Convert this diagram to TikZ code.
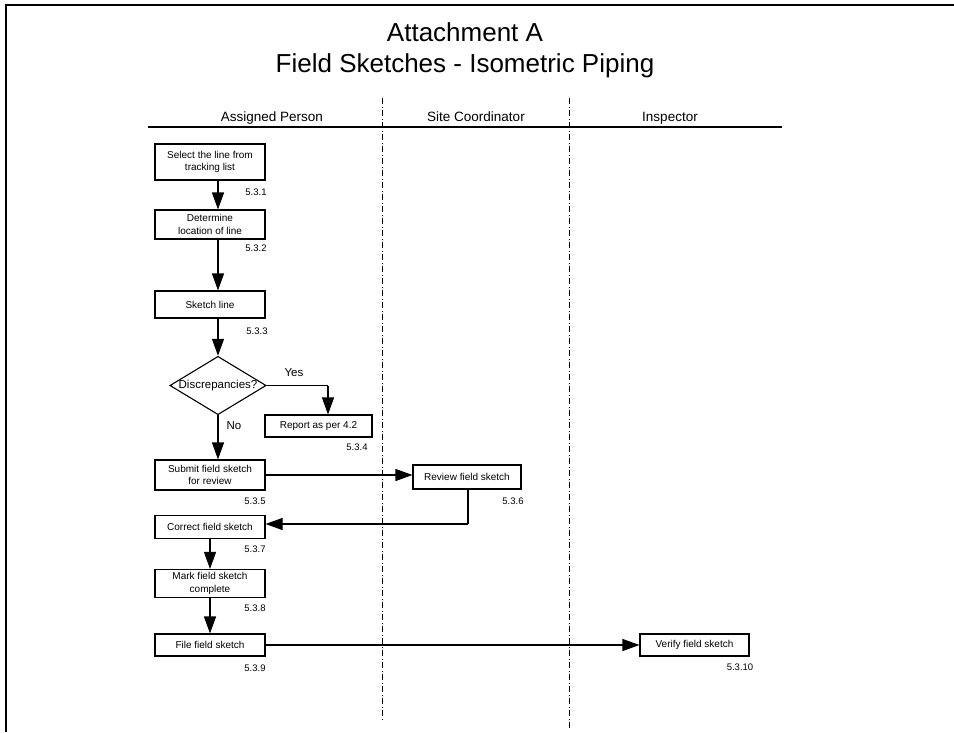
\documentclass[tikz,border=0pt]{standalone}
\usepackage{fontspec}
\setmainfont{Liberation Sans}
\usetikzlibrary{shapes.geometric, arrows.meta, positioning}

\begin{document}
\begin{tikzpicture}[x=1pt, y=-1pt]
  \tikzstyle{stepbox} = [rectangle, draw=black, line width=1.1pt, minimum width=110pt, inner sep=1pt, align=center, font=\fontsize{10}{12.5}\selectfont]
  \tikzstyle{decision} = [diamond, draw=black, line width=1.1pt, minimum width=94pt, minimum height=57pt, inner sep=0pt, aspect=1.65, font=\fontsize{11.5}{13}\selectfont]
  \tikzstyle{refnum} = [inner sep=0pt, font=\fontsize{9.5}{10}\selectfont]
  \tikzstyle{lanehead} = [inner sep=0pt, anchor=base, font=\fontsize{13.5}{15}\selectfont]
  \tikzstyle{connector} = [line width=1.1pt, -{Triangle[length=17pt, width=12pt]}]
  \tikzstyle{plainline} = [line width=1.1pt]
  \tikzstyle{divider} = [line width=0.7pt, dash pattern=on 6pt off 2.5pt on 1pt off 2.5pt]

  \useasboundingbox (0,0) rectangle (954,732);

  % Frame
  \draw[line width=2pt] (6,732) -- (6,5) -- (954,5);

  % Title
  \node (title) at (465,32) [font=\fontsize{26}{30}\selectfont] {Attachment A};
  \node (subtitle) at (465,66) [font=\fontsize{26}{30}\selectfont] {Field Sketches - Isometric Piping};

  % Swim lanes
  \node (assigned) at (272,121) [lanehead] {Assigned Person};
  \node (sitecoord) at (476,121) [lanehead] {Site Coordinator};
  \node (inspector) at (670,121) [lanehead] {Inspector};
  \draw[line width=1.3pt] (148,127) -- (782,127);
  \draw[divider] (382,98) -- (382,720);
  \draw[divider] (569,98) -- (569,728);

  % Assigned person steps
  \node (select) at (210,162) [stepbox, minimum height=36pt] {Select the line from\\tracking list};
  \node (locate) at (210,224.5) [stepbox, minimum height=29pt] {Determine\\location of line};
  \node (sketch) at (210,304.5) [stepbox, minimum height=27pt] {Sketch line};
  \node (discrep) at (218,385.5) [decision] {Discrepancies?};
  \node (report) at (318.5,426) [stepbox, minimum width=107pt, minimum height=22pt] {Report as per 4.2};
  \node (submit) at (210,475) [stepbox, minimum height=30pt] {Submit field sketch\\for review};
  \node (correct) at (210,527) [stepbox, minimum height=23pt] {Correct field sketch};
  \node (markdone) at (210,583.5) [stepbox, minimum height=28pt] {Mark field sketch\\complete};
  \node (filesk) at (210,645) [stepbox, minimum height=22pt] {File field sketch};

  % Site coordinator and inspector steps
  \node (review) at (467,477) [stepbox, minimum width=108pt, minimum height=24pt] {Review field sketch};
  \node (verify) at (694.5,645) [stepbox, minimum width=109pt, minimum height=22pt] {Verify field sketch};

  % Procedure numbers
  \node (n1) at (256,192) [refnum] {5.3.1};
  \node (n2) at (256,248) [refnum] {5.3.2};
  \node (n3) at (257,331) [refnum] {5.3.3};
  \node (n4) at (357,447) [refnum] {5.3.4};
  \node (n5) at (255,501) [refnum] {5.3.5};
  \node (n6) at (513,501) [refnum] {5.3.6};
  \node (n7) at (255,549) [refnum] {5.3.7};
  \node (n8) at (255,608) [refnum] {5.3.8};
  \node (n9) at (255,668) [refnum] {5.3.9};
  \node (n10) at (740,667) [refnum] {5.3.10};

  % Arrows
  \coordinate (yesturn) at (328,385.5);
  \coordinate (backturn) at (468,524);
  \draw[connector] (select.south -| discrep) -- (locate.north -| discrep);
  \draw[connector] (locate.south -| discrep) -- (sketch.north -| discrep);
  \draw[connector] (sketch.south -| discrep) -- (discrep.north);
  \draw[plainline] (discrep.east) -- (yesturn);
  \draw[connector] (yesturn) -- (yesturn |- report.north);
  \draw[connector] (discrep.south) -- (submit.north -| discrep);
  \draw[connector] (submit.east) -- (submit.east -| review.west);
  \draw[plainline] (review.south -| backturn) -- (backturn);
  \draw[connector] (backturn) -- (backturn -| correct.east);
  \draw[connector] (correct) -- (markdone);
  \draw[connector] (markdone) -- (filesk);
  \draw[connector] (filesk) -- (verify);

  % Branch labels
  \node (yes) at (294,373) [font=\fontsize{11.5}{13}\selectfont] {Yes};
  \node (no) at (234,426) [font=\fontsize{11.5}{13}\selectfont] {No};
\end{tikzpicture}
\end{document}
